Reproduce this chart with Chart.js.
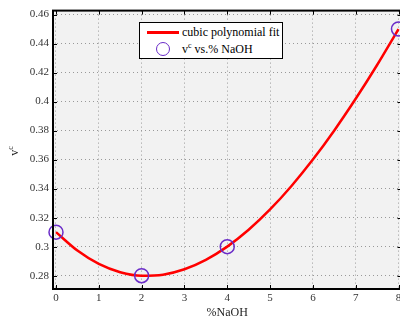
<!DOCTYPE html>
<html>
<head>
<meta charset="utf-8">
<script src="https://cdn.jsdelivr.net/npm/chart.js@4.4.0/dist/chart.umd.min.js"></script>
<style>
html,body{margin:0;padding:0;overflow:hidden;background:#fff;width:400px;height:322px;}
#wrap{position:absolute;left:0;top:0;width:410px;height:322px;}
#legend{position:absolute;left:139px;top:22px;width:142px;height:35px;border:1.3px solid #000;background:#fff;font-family:"Liberation Serif","DejaVu Serif",serif;font-size:12px;color:#000;}
#legend .row{position:absolute;left:0;height:16px;line-height:16px;white-space:nowrap;}
#legend .txt{position:absolute;left:42px;}
#legend .ln{position:absolute;left:7px;top:7px;width:32px;height:2.5px;background:#f00;}
#legend .cir{position:absolute;left:16px;top:1px;width:12px;height:12px;border:1.5px solid #6a2cc8;border-radius:50%;}
#legend sup{font-size:8px;vertical-align:5px;line-height:0;}
#ylab{position:absolute;left:6px;top:142px;width:20px;height:18px;transform:rotate(-90deg);font-family:"Liberation Serif","DejaVu Serif",serif;font-size:12px;text-align:center;color:#222;}
#ylab sup{font-size:8px;vertical-align:5px;line-height:0;}
</style>
</head>
<body>
<div id="wrap"><canvas id="c" width="410" height="322"></canvas></div>
<div id="legend">
  <div class="row" style="top:1px;width:140px"><span class="ln"></span><span class="txt">cubic polynomial fit</span></div>
  <div class="row" style="top:18px;width:140px"><span class="cir"></span><span class="txt">v<sup>c</sup> vs.% NaOH</span></div>
</div>
<div id="ylab">v<sup>c</sup></div>
<script>
// Data
const naoh = [0, 2, 4, 8];
const vc = [0.31, 0.28, 0.30, 0.45];
const fitX = [0, 0.5, 1, 1.5, 2, 2.5, 3, 3.5, 4, 4.5, 5, 5.5, 6, 6.5, 7, 7.5, 8];
const fitY = [0.31, 0.2973, 0.2881, 0.2824, 0.28, 0.2807, 0.2844, 0.2909, 0.30, 0.3116, 0.3256, 0.3418, 0.36, 0.3801, 0.4019, 0.4252, 0.45];
const xTicks = [0, 1, 2, 3, 4, 5, 6, 7, 8];
const yTicks = [0.28, 0.30, 0.32, 0.34, 0.36, 0.38, 0.40, 0.42, 0.44, 0.46];
const yTickLabels = ["0.28", "0.3", "0.32", "0.34", "0.36", "0.38", "0.4", "0.42", "0.44", "0.46"];

const serif = '"Liberation Serif","DejaVu Serif",serif';

const framePlugin = {
  id: 'frame',
  beforeDraw(chart) {
    const a = chart.chartArea, ctx = chart.ctx;
    ctx.save();
    ctx.fillStyle = '#f2f2f2';
    ctx.fillRect(a.left, a.top, a.right - a.left, a.bottom - a.top);
    ctx.restore();
  },
  afterDatasetsDraw(chart) {
    const a = chart.chartArea, ctx = chart.ctx;
    const xs = chart.scales.x, ys = chart.scales.y;
    ctx.save();
    ctx.strokeStyle = '#000';
    ctx.lineWidth = 1;
    ctx.beginPath();
    xTicks.forEach(v => {
      const p = Math.round(xs.getPixelForValue(v)) + 0.5;
      ctx.moveTo(p, a.bottom); ctx.lineTo(p, a.bottom - 4);
      ctx.moveTo(p, a.top); ctx.lineTo(p, a.top + 4);
    });
    yTicks.forEach(v => {
      const p = Math.round(ys.getPixelForValue(v)) + 0.5;
      ctx.moveTo(a.left, p); ctx.lineTo(a.left + 4, p);
      ctx.moveTo(a.right, p); ctx.lineTo(a.right - 4, p);
    });
    ctx.stroke();
    ctx.lineWidth = 2;
    ctx.strokeRect(a.left, a.top, a.right - a.left, a.bottom - a.top);
    ctx.restore();
  }
};

new Chart(document.getElementById('c'), {
  type: 'line',
  data: {
    datasets: [
      {
        label: 'vc vs.% NaOH',
        data: naoh.map((x, i) => ({x: x, y: vc[i]})),
        showLine: false,
        pointRadius: 7,
        pointBorderWidth: 1.5,
        pointBorderColor: '#6a2cc8',
        pointBackgroundColor: 'rgba(0,0,0,0)',
        clip: false,
        order: 0
      },
      {
        label: 'cubic polynomial fit',
        data: fitX.map((x, i) => ({x: x, y: fitY[i]})),
        borderColor: '#ff0000',
        borderWidth: 2.5,
        pointRadius: 0,
        tension: 0.4,
        cubicInterpolationMode: 'monotone',
        fill: false,
        order: 1
      }
    ]
  },
  options: {
    responsive: false,
    animation: false,
    devicePixelRatio: 1,
    layout: {padding: {top: 7, right: 6, left: 0, bottom: 0}},
    plugins: {legend: {display: false}, tooltip: {enabled: false}},
    scales: {
      x: {
        type: 'linear',
        min: -0.07,
        max: 8.07,
        afterBuildTicks: s => { s.ticks = xTicks.map(v => ({value: v})); },
        afterFit: s => { s.height = 33; },
        ticks: {font: {family: serif, size: 11}, color: '#333', padding: 3, maxRotation: 0,
                callback: v => String(v)},
        grid: {color: '#999999', lineWidth: 1, drawTicks: false},
        border: {display: false, dash: [1, 3]},
        title: {display: true, text: '%NaOH', font: {family: serif, size: 12}, color: '#222', padding: {top: 0, bottom: 2}}
      },
      y: {
        type: 'linear',
        min: 0.2708,
        max: 0.4627,
        afterBuildTicks: s => { s.ticks = yTicks.map(v => ({value: v})); },
        afterFit: s => { s.width = 53; },
        ticks: {font: {family: serif, size: 11}, color: '#333', padding: 4,
                callback: (v, i) => yTickLabels[i]},
        grid: {color: '#999999', lineWidth: 1, drawTicks: false},
        border: {display: false, dash: [1, 3]}
      }
    }
  },
  plugins: [framePlugin]
});
</script>
</body>
</html>
